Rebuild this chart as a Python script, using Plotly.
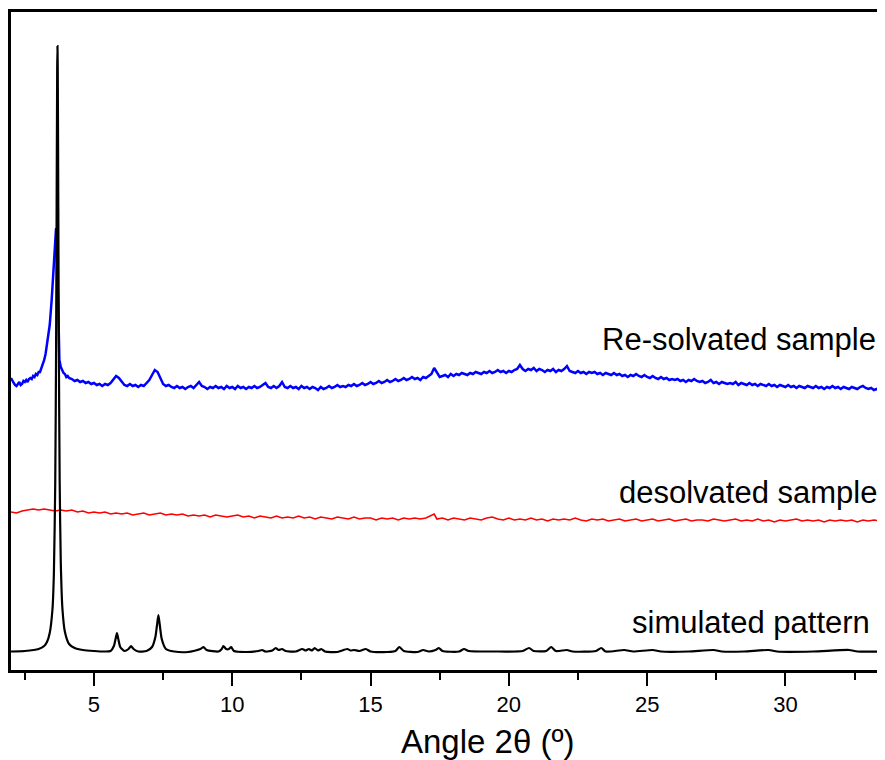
import plotly.graph_objects as go

# ---- simulated pattern (black) ----
sim_x = [2.0, 2.5, 3.0, 3.2, 3.3, 3.4, 3.5, 3.55, 3.6, 3.63, 3.65, 3.67, 3.68, 3.69, 3.71, 3.73, 3.76, 3.8, 3.86, 3.95, 4.1, 4.3, 4.6, 5.0, 5.4,
         5.6, 5.72, 5.78, 5.83, 5.88, 5.95, 6.1, 6.25, 6.34, 6.43, 6.6, 6.9, 7.1, 7.22, 7.28, 7.33, 7.38, 7.45, 7.6, 7.9,
         8.4, 8.85, 8.96, 9.07, 9.5, 9.62, 9.68, 9.78, 9.88, 9.96, 10.06, 10.5, 10.95, 11.08, 11.2, 11.45, 11.57, 11.68, 11.8, 11.92,
         12.3, 12.53, 12.65, 12.77, 12.88, 12.98, 13.1, 13.22, 13.35, 13.8, 14.16, 14.28, 14.4, 14.6, 14.83, 15.0, 15.6, 15.9, 16.04,
         16.2, 16.7, 16.9, 17.1, 17.35, 17.47, 17.6, 18.2, 18.38, 18.55, 19.5, 20.5, 20.73, 20.9, 21.35, 21.53, 21.7, 22.1, 22.3,
         23.15, 23.34, 23.5, 24.17, 24.5, 25.2, 25.5, 26.5, 27.4, 27.7, 28.5, 29.4, 29.7, 31.0, 32.3, 32.6, 33.6]
sim_y = [18.5, 19, 21, 24, 28, 37, 61, 96, 188, 321, 464, 601, 624, 601, 464, 321, 188, 108, 61, 38, 26, 22, 20, 19, 18.5,
         19, 24, 31, 37, 31, 23, 19, 21, 24, 21, 18.5, 19, 23, 33, 45, 55, 45, 31, 21, 18.5,
         18, 21, 23, 20, 18.5, 21, 24, 21, 21, 23, 19, 18, 19, 20, 18.5, 19.5, 22, 20, 21, 19,
         18.5, 21, 19.5, 21, 19.5, 22, 19.5, 21, 18.5, 18, 21, 19.5, 20, 19, 21, 18.5, 18, 19, 23,
         19, 18, 20, 18.5, 20, 22, 19, 18.5, 21, 19, 18.5, 19, 22, 19, 19, 23, 19, 20, 18.5,
         19, 22, 18.5, 20, 18.5, 20, 18.5, 18.5, 20, 18.5, 18.5, 20, 18.5, 18.5, 20, 18.5, 18.5]

# ---- desolvated sample (red) ----
des_x = [2.0, 2.2, 2.4, 2.6, 2.8, 3.0, 3.2, 3.4, 3.6, 3.8, 4.0, 4.2, 4.4, 4.6, 4.8, 5.0, 5.2, 5.4, 5.6, 5.8,
         6.0, 6.2, 6.4, 6.6, 6.8, 7.0, 7.2, 7.4, 7.6, 7.8, 8.0, 8.2, 8.4, 8.6, 8.8, 9.0, 9.2, 9.4, 9.6, 9.8,
         10.0, 10.2, 10.4, 10.6, 10.8, 11.0, 11.2, 11.4, 11.6, 11.8, 12.0, 12.2, 12.4, 12.6, 12.8,
         13.0, 13.2, 13.4, 13.6, 13.8, 14.0, 14.2, 14.4, 14.6, 14.8, 15.0, 15.2, 15.4, 15.6, 15.8,
         16.0, 16.2, 16.4, 16.6, 16.8, 17.0, 17.3, 17.4, 17.6, 17.8, 18.0, 18.2, 18.4, 18.6, 18.8,
         19.0, 19.2, 19.4, 19.6, 19.8, 20.0, 20.2, 20.4, 20.6, 20.8, 21.0, 21.2, 21.4, 21.6, 21.8,
         22.0, 22.2, 22.4, 22.6, 22.8, 23.0, 23.2, 23.4, 23.6, 23.8, 24.0, 24.2, 24.4, 24.6, 24.8,
         25.0, 25.2, 25.4, 25.6, 25.8, 26.0, 26.2, 26.4, 26.6, 26.8, 27.0, 27.2, 27.4, 27.6, 27.8,
         28.0, 28.2, 28.4, 28.6, 28.8, 29.0, 29.2, 29.4, 29.6, 29.8, 30.0, 30.2, 30.4, 30.6, 30.8,
         31.0, 31.2, 31.4, 31.6, 31.8, 32.0, 32.2, 32.4, 32.6, 32.8, 33.0, 33.2, 33.4, 33.6]
des_y = [158, 157, 159, 160, 161, 160, 161, 160, 159, 160, 159, 160, 158, 159, 157, 158, 157, 158, 156, 157,
         156, 157, 155, 156, 157, 155, 156, 157, 155, 156, 155, 156, 154, 155, 154, 155, 153, 155, 154, 153,
         154, 155, 153, 154, 152, 154, 153, 152, 154, 152, 153, 152, 154, 152, 153,
         151, 153, 152, 151, 153, 152, 151, 153, 151, 152, 152, 150, 152, 151, 152,
         150, 152, 151, 152, 151, 152, 156, 151, 152, 150, 152, 151, 150, 152, 151,
         150, 152, 153, 151, 150, 152, 150, 151, 150, 152, 150, 151, 149, 151, 150,
         151, 150, 152, 150, 149, 151, 150, 151, 149, 150, 151, 149, 150, 151, 149,
         150, 151, 149, 150, 151, 149, 150, 151, 149, 150, 150, 149, 151, 150, 149,
         150, 151, 149, 150, 149, 151, 149, 150, 148, 150, 149, 150, 151, 149, 150,
         149, 150, 148, 150, 149, 150, 149, 150, 148, 150, 149, 150, 149, 150]

# ---- re-solvated sample (blue) ----
res_x = [2.0, 2.05, 2.1, 2.15, 2.2, 2.25, 2.3, 2.35, 2.4, 2.45, 2.5, 2.55, 2.6, 2.65, 2.7, 2.75, 2.8, 2.85, 2.9, 2.95,
         3.0, 3.05, 3.1, 3.15, 3.2, 3.25, 3.3, 3.35, 3.4, 3.47, 3.55, 3.63, 3.66, 3.69, 3.72, 3.75, 3.8, 3.84, 3.9, 3.95,
         4.0, 4.05, 4.1,
         4.2, 4.3, 4.4, 4.5, 4.6, 4.7, 4.8, 4.9,
         5.0, 5.1, 5.2, 5.3, 5.4, 5.5, 5.6, 5.7, 5.8, 5.9,
         6.0, 6.1, 6.2, 6.3, 6.4, 6.5, 6.6, 6.7, 6.8, 6.9,
         7.0, 7.1, 7.2, 7.3, 7.4, 7.5, 7.6, 7.7, 7.8, 7.9,
         8.0, 8.1, 8.2, 8.3, 8.4, 8.5, 8.6, 8.7, 8.8, 8.9,
         9.0, 9.1, 9.2, 9.3, 9.4, 9.5, 9.6, 9.7, 9.8, 9.9,
         10.0, 10.1, 10.2, 10.3, 10.4, 10.5, 10.6, 10.7, 10.8, 10.9,
         11.0, 11.1, 11.2, 11.3, 11.4, 11.5, 11.6, 11.7, 11.8, 11.9,
         12.0, 12.1, 12.2, 12.3, 12.4, 12.5, 12.6, 12.7, 12.8, 12.9,
         13.0, 13.1, 13.2, 13.3, 13.4, 13.5, 13.6, 13.7, 13.8, 13.9,
         14.0, 14.1, 14.2, 14.3, 14.4, 14.5, 14.6, 14.7, 14.8, 14.9,
         15.0, 15.1, 15.2, 15.3, 15.4, 15.5, 15.6, 15.7, 15.8, 15.9,
         16.0, 16.1, 16.2, 16.3, 16.4, 16.5, 16.6, 16.7, 16.8, 16.9,
         17.0, 17.1, 17.2, 17.3, 17.4, 17.5, 17.6, 17.7, 17.8, 17.9,
         18.0, 18.1, 18.2, 18.3, 18.4, 18.5, 18.6, 18.7, 18.8, 18.9,
         19.0, 19.1, 19.2, 19.3, 19.4, 19.5, 19.6, 19.7, 19.8, 19.9,
         20.0, 20.1, 20.2, 20.3, 20.4, 20.5, 20.6, 20.7, 20.8, 20.9,
         21.0, 21.1, 21.2, 21.3, 21.4, 21.5, 21.6, 21.7, 21.8, 21.9,
         22.0, 22.1, 22.2, 22.3, 22.4, 22.5, 22.6, 22.7, 22.8, 22.9,
         23.0, 23.1, 23.2, 23.3, 23.4, 23.5, 23.6, 23.7, 23.8, 23.9,
         24.0, 24.1, 24.2, 24.3, 24.4, 24.5, 24.6, 24.7, 24.8, 24.9,
         25.0, 25.1, 25.2, 25.3, 25.4, 25.5, 25.6, 25.7, 25.8, 25.9,
         26.0, 26.1, 26.2, 26.3, 26.4, 26.5, 26.6, 26.7, 26.8, 26.9,
         27.0, 27.1, 27.2, 27.3, 27.4, 27.5, 27.6, 27.7, 27.8, 27.9,
         28.0, 28.1, 28.2, 28.3, 28.4, 28.5, 28.6, 28.7, 28.8, 28.9,
         29.0, 29.1, 29.2, 29.3, 29.4, 29.5, 29.6, 29.7, 29.8, 29.9,
         30.0, 30.1, 30.2, 30.3, 30.4, 30.5, 30.6, 30.7, 30.8, 30.9,
         31.0, 31.1, 31.2, 31.3, 31.4, 31.5, 31.6, 31.7, 31.8, 31.9,
         32.0, 32.1, 32.2, 32.3, 32.4, 32.5, 32.6, 32.7, 32.8, 32.9,
         33.0, 33.1, 33.2, 33.3, 33.4, 33.5, 33.6]
res_y = [292, 289, 287, 285, 284, 286, 288, 285, 286, 289, 288, 290, 288, 291, 292, 291, 294, 293, 296, 295,
         298, 298, 302, 304, 310, 316, 325, 333, 345, 370, 405, 442, 420, 370, 335, 310, 303, 300, 297, 296,
         293, 294, 292,
         291, 289, 290, 288, 289, 287, 288, 286,
         287, 285, 286, 284, 286, 285, 287, 290, 294, 292,
         288, 285, 284, 286, 284, 285, 283, 285, 284, 287,
         290, 295, 300, 298, 292, 286, 284, 285, 283, 282,
         284, 282, 283, 281, 283, 284, 282, 285, 288, 284,
         283, 281, 283, 282, 284, 282, 283, 281, 284, 282,
         283, 281, 284, 282, 283, 281, 283, 282, 284, 282,
         283, 285, 287, 283, 282, 284, 282, 284, 288, 283,
         282, 284, 282, 283, 281, 284, 282, 283, 281, 283,
         282, 280, 283, 281, 282, 284, 282, 283, 285, 283,
         284, 283, 285, 284, 286, 284, 285, 287, 285, 286,
         288, 286, 287, 289, 287, 288, 290, 288, 289, 291,
         289, 290, 292, 290, 291, 293, 291, 292, 290, 293,
         292, 294, 296, 302, 298, 293, 294, 295, 293, 296,
         294, 296, 295, 297, 296, 295, 297, 296, 298, 297,
         296, 298, 297, 299, 297, 298, 300, 298, 299, 297,
         299, 298, 300, 301, 305, 301, 299, 301, 300, 302,
         299, 301, 300, 298, 300, 299, 301, 298, 300, 299,
         301, 304, 299, 298, 297, 299, 297, 298, 296, 298,
         297, 298, 296, 297, 295, 297, 296, 295, 297, 295,
         296, 294, 295, 293, 295, 294, 296, 294, 293, 295,
         293, 292, 294, 292, 291, 293, 291, 292, 290, 291,
         290, 291, 289, 290, 288, 290, 289, 291, 289, 288,
         289, 287, 288, 290, 287, 288, 286, 288, 287, 286,
         287, 286, 288, 285, 287, 286, 285, 287, 285, 286,
         284, 286, 285, 284, 286, 284, 285, 283, 285, 284,
         283, 285, 283, 284, 282, 284, 283, 282, 284, 283,
         282, 284, 282, 283, 281, 283, 282, 284, 282, 283,
         281, 283, 282, 281, 283, 282, 281, 283, 284, 282,
         281, 282, 280, 281, 279, 280, 279]

major_ticks = [5, 10, 15, 20, 25, 30]
major_labels = ["5", "10", "15", "20", "25", "30"]
minor_ticks = [2.5, 7.5, 12.5, 17.5, 22.5, 27.5, 32.5]

labels = ["Re-solvated sample", "desolvated sample", "simulated pattern"]

FONT = "Liberation Sans, Arial, sans-serif"

fig = go.Figure()
fig.add_trace(go.Scatter(x=res_x, y=res_y, mode="lines", line=dict(color="#0000ff", width=2.5), showlegend=False))
fig.add_trace(go.Scatter(x=des_x, y=des_y, mode="lines", line=dict(color="#ff0000", width=1.6), showlegend=False))
fig.add_trace(go.Scatter(x=sim_x, y=sim_y, mode="lines", line=dict(color="#000000", width=2.2, shape="spline", smoothing=0.6), showlegend=False))

# The page places the figure 8 px in from the top-left corner (default body margin),
# so the figure is sized 877x752 to fill the 885x760 window.
fig.update_layout(
    width=877, height=752,
    margin=dict(l=3, r=0, t=4, b=90),
    paper_bgcolor="white", plot_bgcolor="white",
    font=dict(family=FONT, color="black"),
    xaxis=dict(range=[2.0, 33.6], showgrid=False, zeroline=False, showline=True, linecolor="black", linewidth=2.5,
               mirror=True, ticks="outside", ticklen=13, tickwidth=2, tickcolor="black",
               tickvals=major_ticks, ticktext=major_labels, tickfont=dict(size=22, family=FONT),
               minor=dict(tickvals=minor_ticks, ticks="outside", ticklen=7, tickwidth=2, tickcolor="black")),
    yaxis=dict(range=[0, 658], showgrid=False, zeroline=False, showline=True, linecolor="black", linewidth=2.5,
               showticklabels=False, ticks=""),
)

fig.add_annotation(text="Angle 2θ (º)", xref="paper", yref="paper", x=(488 - 11) / 874, y=-0.108,
                   xanchor="center", yanchor="middle", showarrow=False, font=dict(size=33, family=FONT))
fig.add_annotation(text=labels[0], xref="paper", yref="paper", x=0.992, y=(670 - 339) / 658,
                   xanchor="right", yanchor="middle", showarrow=False, font=dict(size=31, family=FONT))
fig.add_annotation(text=labels[1], xref="paper", yref="paper", x=0.994, y=(670 - 492) / 658,
                   xanchor="right", yanchor="middle", showarrow=False, font=dict(size=31, family=FONT))
fig.add_annotation(text=labels[2], xref="paper", yref="paper", x=0.985, y=(670 - 622) / 658,
                   xanchor="right", yanchor="middle", showarrow=False, font=dict(size=31, family=FONT))

fig.write_html("out.html")
